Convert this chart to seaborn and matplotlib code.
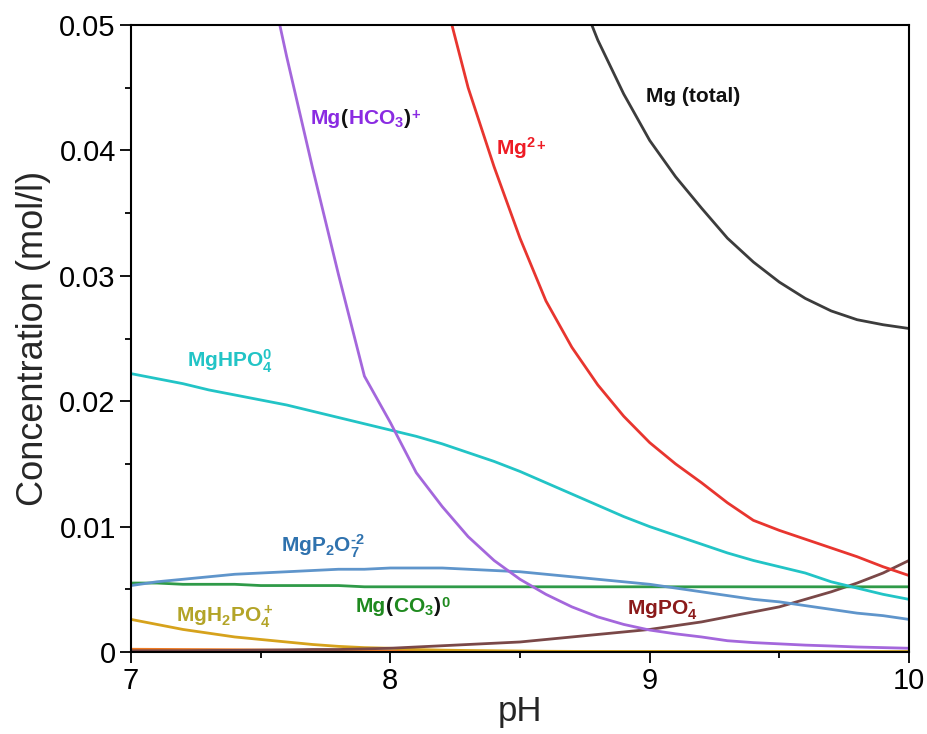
import numpy as np
import pandas as pd
import matplotlib
matplotlib.use("Agg")
import matplotlib.pyplot as plt
import seaborn as sns
from matplotlib.offsetbox import TextArea, HPacker, AnnotationBbox
from matplotlib.ticker import MultipleLocator

# pH grid (0.1 steps) used by each species, starting where the species is on-scale
ph_full = [round(7.0 + 0.1 * i, 1) for i in range(31)]

mg_total_ph = ph_full[17:]
mg_total = [0.0540, 0.0488, 0.0445, 0.0408, 0.0379, 0.0354, 0.0330, 0.0311,
            0.0295, 0.0282, 0.0272, 0.0265, 0.0261, 0.0258]

mg2_ph = ph_full[12:]
mg2 = [0.0530, 0.0450, 0.0387, 0.0330, 0.0280, 0.0243, 0.0213, 0.0188, 0.0167,
       0.0150, 0.0135, 0.0119, 0.0105, 0.0097, 0.0090, 0.0083, 0.0076, 0.0068, 0.0061]

mghco3_ph = ph_full[5:]
mghco3 = [0.0570, 0.0475, 0.0386, 0.0301, 0.0220, 0.0183, 0.0143, 0.0116, 0.0092,
          0.0073, 0.0058, 0.0046, 0.0036, 0.0028, 0.0022, 0.00175, 0.00145, 0.0012,
          0.0009, 0.00075, 0.00065, 0.00055, 0.00048, 0.0004, 0.00035, 0.0003]

mghpo4 = [0.0222, 0.0218, 0.0214, 0.0209, 0.0205, 0.0201, 0.0197, 0.0192, 0.0187,
          0.0182, 0.0177, 0.0172, 0.0166, 0.0159, 0.0152, 0.0144, 0.0135, 0.0126,
          0.0117, 0.0108, 0.0100, 0.0093, 0.0086, 0.0079, 0.0073, 0.0068, 0.0063,
          0.0056, 0.0051, 0.0046, 0.0042]

mgp2o7 = [0.0053, 0.0056, 0.0058, 0.0060, 0.0062, 0.0063, 0.0064, 0.0065, 0.0066,
          0.0066, 0.0067, 0.0067, 0.0067, 0.0066, 0.0065, 0.0064, 0.0062, 0.0060,
          0.0058, 0.0056, 0.0054, 0.0051, 0.0048, 0.0045, 0.0042, 0.0040, 0.0037,
          0.0034, 0.0031, 0.0029, 0.0026]

mgco3 = [0.0055, 0.0055, 0.0054, 0.0054, 0.0054, 0.0053, 0.0053, 0.0053, 0.0053,
         0.0052, 0.0052, 0.0052, 0.0052, 0.0052, 0.0052, 0.0052, 0.0052, 0.0052,
         0.0052, 0.0052, 0.0052, 0.0052, 0.0052, 0.0052, 0.0052, 0.0052, 0.0052,
         0.0052, 0.0052, 0.0052, 0.0052]

mgh2po4 = [0.0026, 0.0022, 0.0018, 0.0015, 0.0012, 0.0010, 0.0008, 0.0006, 0.00045,
           0.00035, 0.0003, 0.0002, 0.00015, 0.00012, 0.0001, 0.00008, 0.00006,
           0.00005, 0.00004, 0.00003, 0.00003, 0.00002, 0.00002, 0.00002, 0.00001,
           0.00001, 0.00001, 0.00001, 0.00001, 0.00001, 0.00001]

mgpo4 = [0.0001, 0.0001, 0.0001, 0.00012, 0.00013, 0.00015, 0.00017, 0.0002, 0.0002,
         0.00025, 0.0003, 0.0004, 0.0005, 0.0006, 0.0007, 0.0008, 0.0010, 0.0012,
         0.0014, 0.0016, 0.0018, 0.0021, 0.0024, 0.0028, 0.0032, 0.0036, 0.0042,
         0.0048, 0.0055, 0.0063, 0.0073]

# minor species that stay near zero
trace_zero = [0.0] * 31
trace_olive = [0.00005] * 31
trace_orange = [0.00022, 0.00021, 0.0002, 0.00019, 0.00018, 0.00016, 0.00014,
                0.00012, 0.0001, 0.00008, 0.00006, 0.00005, 0.00004, 0.00003,
                0.00002, 0.00001, 0.0, 0.0, 0.0, 0.0, 0.0, 0.0, 0.0, 0.0, 0.0,
                0.0, 0.0, 0.0, 0.0, 0.0, 0.0]

sns.set_style("ticks")
plt.rcParams["font.family"] = ["Liberation Sans", "DejaVu Sans"]
plt.rcParams["mathtext.default"] = "regular"

fig = plt.figure(figsize=(9.28, 7.34), dpi=100)
ax = fig.add_axes([0.1412, 0.1117, 0.8383, 0.8542])

LW = 2.0
series = [
    (ph_full, trace_zero, "#3a7d1e"),
    (ph_full, trace_olive, "#a8c43a"),
    (ph_full, trace_orange, "#ef7b22"),
    (ph_full, mgh2po4, "#d6a21c"),
    (ph_full, mgpo4, "#7a4848"),
    (ph_full, mgco3, "#2f9a48"),
    (ph_full, mgp2o7, "#5f95cb"),
    (ph_full, mghpo4, "#22c4c6"),
    (mghco3_ph, mghco3, "#a467dc"),
    (mg2_ph, mg2, "#e8352f"),
    (mg_total_ph, mg_total, "#3c3c3c"),
]
for x, y, c in series:
    sns.lineplot(x=x, y=y, color=c, linewidth=LW, ax=ax, estimator=None, sort=False)

ax.set_xlim(7, 10)
ax.set_ylim(0, 0.05)
ax.xaxis.set_major_locator(MultipleLocator(1))
ax.xaxis.set_minor_locator(MultipleLocator(0.5))
ax.yaxis.set_major_locator(MultipleLocator(0.01))
ax.yaxis.set_minor_locator(MultipleLocator(0.005))
ax.set_yticks([0, 0.01, 0.02, 0.03, 0.04, 0.05])
ax.set_yticklabels(["0", "0.01", "0.02", "0.03", "0.04", "0.05"])
ax.set_xticks([7, 8, 9, 10])
ax.set_xticklabels(["7", "8", "9", "10"])
ax.tick_params(which="major", direction="out", length=8, width=1.3, labelsize=21,
               color="black", labelcolor="black", pad=3)
ax.tick_params(which="minor", direction="out", length=4.5, width=1.3, color="black")
for sp in ax.spines.values():
    sp.set_visible(True)
    sp.set_color("black")
    sp.set_linewidth(1.5)

ax.set_xlabel("pH", fontsize=25, labelpad=0)
ax.set_ylabel("Concentration (mol/l)", fontsize=26, labelpad=6)


def chem_label(parts, xy, size=15):
    areas = [TextArea(s, textprops=dict(color=c, fontsize=size, fontweight="bold",
                                        family="Liberation Sans"))
             for s, c in parts]
    box = HPacker(children=areas, align="baseline", pad=0, sep=0)
    ab = AnnotationBbox(box, xy, xycoords="data", box_alignment=(0, 0.5),
                        frameon=False, pad=0)
    ax.add_artist(ab)


K = "#111111"
HY = "\u2010"  # short hyphen for charge signs
chem_label([("Mg (total)", K)], (8.986, 0.0443))
chem_label([("Mg", "#8a2be2"), ("(", K), ("HCO$_3$", "#8a2be2"), (")", K),
            ("$^{+}$", "#8a2be2")], (7.694, 0.0425))
chem_label([("Mg$^{2}$", "#ee1c25"), ("$^{+}$", "#ee1c25")], (8.408, 0.0402))
chem_label([("MgHPO$_4^0$", "#22c4c6")], (7.216, 0.0232))
chem_label([("MgP$_2$O$_7^{" + HY + "2}$", "#2f72ae")], (7.578, 0.0084))
chem_label([("Mg", "#1f8a1f"), ("(", K), ("CO$_3$", "#1f8a1f"), (")", K),
            ("$^0$", "#1f8a1f")], (7.868, 0.0036))
chem_label([("MgH$_2$PO$_4^+$", "#b3a428")], (7.174, 0.0028))
chem_label([("MgPO$_4^{" + HY + "}$", "#8b1a1a")], (8.913, 0.0033))

fig.savefig("out.png", dpi=100, facecolor="white")
